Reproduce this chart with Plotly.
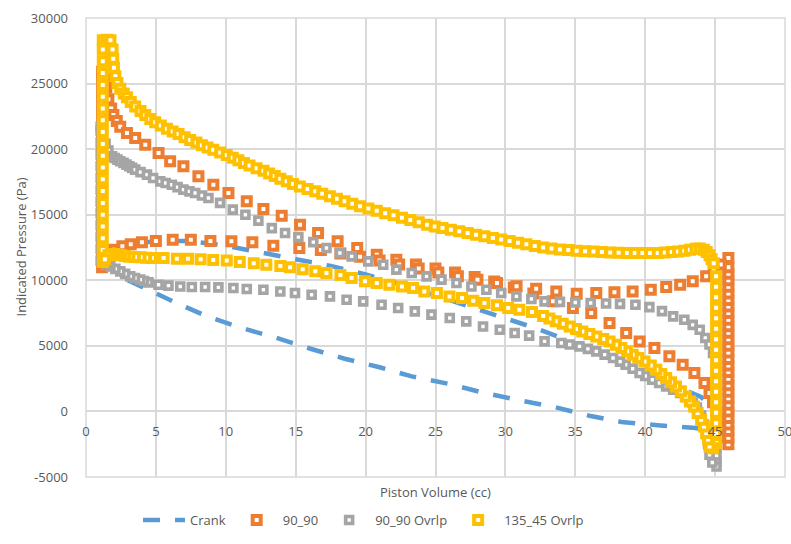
import plotly.graph_objects as go

# ---------------- data ----------------
# Crank (closed loop, dashed line)
crank_v = [1.5, 3.0, 5.0, 7.3, 9.7, 12.3, 15.0, 17.5, 20.0, 22.5, 25.0, 27.5, 30.0, 32.3,
           34.5, 36.5, 38.5, 40.5, 42.5, 44.0, 44.8, 45.0, 44.6, 43.4, 40.9, 38.3, 36.0,
           33.4, 30.8, 28.3, 25.9, 23.3, 21.0, 18.5, 16.0, 13.6, 11.1, 8.7, 6.4, 4.4, 2.8,
           1.8, 1.5]
crank_p = [12000, 12700, 13000, 13000, 12700, 12200, 11600, 11100, 10450, 9700, 8850, 8000,
           7150, 6300, 5400, 4500, 3600, 2700, 1800, 1100, 300, -800, -1400, -1250, -1050,
           -800, -330, 360, 890, 1460, 2110, 2670, 3370, 4020, 4800, 5620, 6370, 7230, 8300,
           9250, 10100, 10900, 12000]

# 90_90
o_v = [1.15, 1.15, 1.15, 1.15, 1.15, 1.15, 1.15, 1.15, 1.15, 1.15, 1.15, 1.15, 1.15, 1.15,
       1.15, 1.15, 1.15, 1.15,
       1.3, 1.45, 1.6, 1.8, 1.96, 2.2, 2.45, 2.93, 3.52, 4.24, 5.19, 6.02, 6.97, 8.04, 9.11,
       10.19, 11.5, 12.69, 14.0, 15.31, 16.6, 18.0, 19.4, 20.8, 22.2, 23.6, 25.0, 26.4, 27.8,
       29.2, 30.6, 32.0, 33.4, 34.83, 36.14, 37.45, 38.64, 39.6, 40.66, 41.73, 42.68, 43.52,
       44.24, 44.6, 44.85, 45.1, 45.3, 45.5, 45.75,
       45.95, 45.95, 45.95, 45.95, 45.95, 45.95, 45.95, 45.95, 45.95, 45.95, 45.95, 45.95,
       45.95, 45.95, 45.95, 45.95, 45.95, 45.95, 45.95, 45.95, 45.95, 45.95, 45.95, 45.95,
       45.95, 45.95, 45.95, 45.95, 45.95,
       45.4, 44.9, 44.36, 43.4, 42.5, 41.5, 40.4, 39.1, 37.8, 36.5, 35.1, 33.64, 32.2, 30.8,
       29.4, 28.0, 26.6, 25.2, 23.8, 22.4, 21.0, 19.6, 18.2, 16.8, 15.26, 13.4, 11.9, 10.4,
       8.9, 7.5, 6.2, 5.0, 4.0, 3.2, 2.6, 2.0, 1.6, 1.3]
o_p = [11000, 11900, 12800, 13700, 14600, 15500, 16400, 17300, 18200, 19100, 20000, 20900,
       21800, 22700, 23600, 24500, 25400, 25900,
       25600, 24700, 23800, 23100, 22600, 22150, 21700, 21240, 20850, 20340, 19710, 19070,
       18690, 17930, 17290, 16660, 16020, 15440, 14930, 14240, 13600, 12970, 12460, 11950,
       11570, 11200, 10900, 10600, 10250, 9900, 9450, 9000, 8400, 7890, 7510, 6740, 5980,
       5340, 4840, 4200, 3560, 2930, 2170, 1400, 700, 0, -700, -1300, -1900,
       -2500, -2000, -1500, -1000, -500, 0, 500, 1000, 1500, 2000, 2500, 3000, 3500, 4000,
       4500, 5000, 5500, 6000, 6500, 7000, 7500, 8000, 8500, 9000, 9500, 10000, 10500,
       11000, 11700,
       11200, 10700, 10300, 9920, 9660, 9490, 9280, 9150, 9080, 9030, 8980, 9150, 9350,
       9550, 9800, 10050, 10300, 10600, 10900, 11200, 11500, 11800, 12050, 12300, 12460,
       12640, 12900, 12970, 13000, 13100, 13100, 13000, 12900, 12750, 12600, 12330, 11900,
       11300]

# 90_90 Ovrlp
g_v = [1.05, 1.05, 1.05, 1.05, 1.05, 1.05, 1.05, 1.05, 1.05, 1.05, 1.05, 1.05, 1.05,
       1.2, 1.4, 1.6, 1.86, 2.05, 2.25, 2.45, 2.69, 2.9, 3.1, 3.3, 3.52, 3.9, 4.36, 4.8,
       5.31, 5.7, 6.14, 6.55, 6.97, 7.4, 7.81, 8.3, 8.76, 9.59,
       10.5, 11.4, 12.33, 13.29, 14.24, 15.19, 16.26, 17.2, 18.16, 19.0, 20.19, 21.26, 22.2,
       23.3, 24.36, 25.43, 26.5, 27.57, 28.64, 29.7, 30.79, 31.86, 32.8, 33.9, 35.0, 36.1,
       37.2, 38.2, 39.3, 40.3, 41.2, 42.0, 42.8, 43.4, 43.9, 44.3, 44.6, 44.85,
       45.1, 45.1, 45.1, 45.1, 45.1, 45.1, 45.1, 45.1, 45.1, 45.1, 45.1, 45.1, 45.1, 45.1,
       45.1, 44.8,
       44.6, 44.5, 44.4, 44.2, 44.0, 43.7, 43.4, 42.9, 42.5, 42.0, 41.5, 41.0, 40.5, 40.0,
       39.6, 39.1, 38.6, 38.2, 37.7, 37.1, 36.5, 35.9, 35.3, 34.6, 34.0, 32.8, 31.7, 30.66,
       29.6, 28.4, 27.2, 26.02, 24.71, 23.52, 22.33, 21.14, 19.83, 18.64, 17.45, 16.14,
       14.95, 13.9, 12.69, 11.5, 10.54, 9.47, 8.52, 7.57, 6.74, 5.9, 5.19, 4.47, 4.15, 3.88,
       3.5, 3.16, 2.8, 2.45, 2.1, 1.74, 1.5, 1.3]
g_p = [11500, 12400, 13300, 14200, 15100, 16000, 16900, 17800, 18700, 19600, 20500, 21400,
       21700,
       21200, 20400, 19900, 19450, 19330, 19200, 19080, 18950, 18820, 18700, 18570, 18440,
       18250, 18060, 17800, 17540, 17420, 17290, 17100, 16910, 16780, 16660, 16470, 16280,
       15900, 15390, 15000, 14550, 13980, 13600, 13290, 12910, 12460, 12080,
       11820, 11440, 11190, 10810, 10560, 10300, 10050, 9790, 9530, 9280, 9030, 8770, 8570,
       8390, 8350, 8310, 8270, 8230, 8200, 8140, 7950, 7650, 7250, 6990, 6600, 6230, 5600,
       5100, 4450,
       3800, 3200, 2600, 2000, 1400, 800, 200, -400, -1000, -1600, -2200, -2800, -3400,
       -3900, -4200, -3900,
       -3300, -2500, -1800, -1000, -300, 300, 640, 1100, 1400, 1650, 1910, 2170, 2420, 2700,
       2930, 3250, 3560, 3800, 4070, 4330, 4580, 4770, 4960, 5100, 5220, 5340, 5780, 5980,
       6230, 6480, 6870, 7120, 7380, 7630, 7890, 8140, 8390, 8520, 8770, 8900, 9030, 9150,
       9280, 9340, 9410, 9460, 9490, 9490, 9530, 9590, 9660, 9840, 9940, 10050, 10170,
       10300, 10490, 10680, 10870, 11060, 11280, 11500]

# 135_45 Ovrlp
y_v = [1.2, 1.2, 1.2, 1.2, 1.2, 1.2, 1.2, 1.2, 1.2, 1.2, 1.2, 1.2, 1.2, 1.2, 1.2, 1.2,
       1.2, 1.2, 1.2, 1.2,
       1.5, 1.75, 1.9, 1.95, 2.0, 2.1, 2.25, 2.45, 2.7, 2.93, 3.2, 3.52, 3.9, 4.24, 4.6,
       4.95, 5.35, 5.79, 6.2, 6.62, 7.05, 7.45, 7.9, 8.29, 8.7, 9.11, 9.6, 10.07, 10.5, 10.9,
       11.3, 11.7, 12.2, 12.7, 13.1, 13.5, 13.9, 14.36, 14.8, 15.3, 15.85, 16.4, 16.9, 17.45,
       17.95, 18.5, 19.05, 19.6, 20.2, 20.8, 21.4, 22.0, 22.6, 23.2, 23.8, 24.4, 24.95, 25.5,
       26.1, 26.7, 27.3, 27.9, 28.5, 29.1, 29.7, 30.3, 30.9, 31.5, 32.1, 32.7, 33.3, 33.9,
       34.5, 35.1, 35.7, 36.3, 36.9, 37.5, 38.1, 38.7, 39.25, 39.8, 40.35, 40.9, 41.4, 41.9,
       42.35, 42.8, 43.2, 43.6, 43.9, 44.2, 44.4, 44.6, 44.75, 44.9,
       45.07, 45.07, 45.07, 45.07, 45.07, 45.07, 45.07, 45.07, 45.07, 45.07, 45.07, 45.07,
       45.07, 45.07, 45.07, 45.07, 45.07, 44.85,
       44.6, 44.5, 44.36, 44.2, 44.0, 43.75, 43.5, 43.2, 42.9, 42.55, 42.2, 41.85, 41.5,
       41.15, 40.8, 40.4, 39.95, 39.5, 39.1, 38.7, 38.3, 37.9, 37.45, 37.0, 36.5, 36.0, 35.5,
       35.05, 34.6, 34.1, 33.6, 33.15, 32.7, 31.9, 31.0, 30.2, 29.4, 28.5, 27.7, 26.9, 26.0,
       25.1, 24.2, 23.4, 22.6, 21.7, 20.8, 19.95, 19.0, 18.2, 17.2, 16.4, 15.5, 14.6, 13.9,
       12.9, 12.0, 11.0, 10.07, 9.1, 8.2, 7.3, 6.5, 5.55, 4.71, 4.3, 3.9, 3.5, 3.1, 2.8, 2.5,
       2.25, 2.0, 1.8, 1.6, 1.35]
y_p = [11400, 12300, 13200, 14100, 15000, 15900, 16800, 17700, 18600, 19500, 20400, 21300,
       22200, 23100, 24000, 24900, 25800, 26700, 27600, 28300,
       28350, 28300, 27600, 26900, 26200, 25550, 25050, 24600, 24250, 23950, 23600, 23250,
       22900, 22600, 22300, 22050, 21800, 21550, 21350, 21150, 20900, 20700, 20500, 20300,
       20120, 19950, 19750, 19550, 19350, 19150, 18950, 18750, 18550, 18350, 18150, 17950,
       17750, 17550, 17350, 17160, 16970, 16780, 16590, 16400, 16210, 16020, 15830, 15640,
       15470, 15300, 15120, 14950, 14770, 14600, 14420, 14240, 14110, 13990, 13860, 13730,
       13600, 13480, 13350, 13230, 13110, 13000, 12870, 12750, 12620, 12500, 12420, 12350,
       12300, 12250, 12220, 12200, 12160, 12120, 12100, 12080, 12080, 12080, 12080, 12080,
       12110, 12150, 12200, 12250, 12320, 12400, 12420, 12330, 12150, 11900, 11600, 11300,
       10300, 9500, 8700, 7900, 7100, 6300, 5500, 4700, 3900, 3100, 2300, 1500, 700, -100,
       -900, -1700, -2400, -2800,
       -2670, -2150, -1650, -1150, -630, -120, 380, 760, 1140, 1530, 1910, 2230, 2550, 2860,
       3180, 3500, 3810, 4070, 4320, 4580, 4840, 5090, 5340, 5530, 5720, 5910, 6100, 6290,
       6480, 6680, 6870, 7080, 7280, 7580, 7760, 7890, 8090, 8270, 8440, 8650, 8770, 9030,
       9150, 9410, 9530, 9660, 9790, 9920, 10170, 10400, 10560, 10680, 10850, 11000, 11090,
       11190, 11290, 11400, 11500, 11550, 11600, 11650, 11650, 11700, 11700, 11720, 11750,
       11770, 11800, 11850, 11900, 11950, 12000, 11950, 11900, 11600]

x_ticks = [0, 5, 10, 15, 20, 25, 30, 35, 40, 45, 50]
y_ticks = [-5000, 0, 5000, 10000, 15000, 20000, 25000, 30000]

# ---------------- figure ----------------
FONT = "Open Sans"
TXT = "#595959"
GRID = "#D9D9D9"
PLOT_H = 544 - 18 - 67

fig = go.Figure()
fig.add_trace(go.Scatter(x=crank_v, y=crank_p, mode="lines", name="Crank",
                         line=dict(color="#5B9BD5", width=4.5, dash="17px,15px")))
fig.add_trace(go.Scatter(x=o_v, y=o_p, mode="markers", name="90_90",
                         marker=dict(symbol="square", size=8, color="white",
                                     line=dict(color="#ED7D31", width=4))))
fig.add_trace(go.Scatter(x=g_v, y=g_p, mode="markers", name="90_90 Ovrlp",
                         marker=dict(symbol="square", size=7, color="white",
                                     line=dict(color="#A5A5A5", width=3.6))))
fig.add_trace(go.Scatter(x=y_v, y=y_p, mode="markers", name="135_45 Ovrlp",
                         marker=dict(symbol="square", size=8, color="white",
                                     line=dict(color="#FFC000", width=4))))

fig.update_layout(
    width=791, height=544,
    margin=dict(l=86, r=6, t=18, b=67, autoexpand=False),
    paper_bgcolor="white", plot_bgcolor="white",
    font=dict(family=FONT, size=13, color=TXT),
    showlegend=True,
    legend=dict(orientation="h", x=(138 - 86) / 699, xanchor="left",
                y=-(520 - 477) / PLOT_H, yanchor="middle",
                font=dict(family=FONT, size=13, color=TXT), itemwidth=42),
    xaxis=dict(range=[0, 50], tickvals=x_ticks, ticktext=[str(t) for t in x_ticks],
               showgrid=True, gridcolor=GRID, gridwidth=1.5, zeroline=False,
               showline=False, anchor="free", position=5000 / 35000,
               tickfont=dict(family=FONT, size=13, color=TXT), ticks="",
               ticklabelstandoff=11, ticklabeloverflow="allow"),
    yaxis=dict(range=[-5000, 30000], tickvals=y_ticks, ticktext=[str(t) for t in y_ticks],
               showgrid=True, gridcolor=GRID, gridwidth=1.5, zeroline=False,
               showline=False, tickfont=dict(family=FONT, size=13, color=TXT),
               ticks="", ticklabelstandoff=17, ticklabeloverflow="allow"),
    shapes=[dict(type="rect", xref="paper", yref="paper", x0=0, y0=0, x1=1, y1=1,
                 line=dict(color=GRID, width=1.5), layer="below")],
    annotations=[
        dict(text="Piston Volume (cc)", xref="paper", yref="paper", x=0.5,
             y=-(492 - 477) / PLOT_H, xanchor="center", yanchor="middle", showarrow=False,
             font=dict(family=FONT, size=13, color=TXT)),
        dict(text="Indicated Pressure (Pa)", xref="paper", yref="paper",
             x=-(86 - 20) / 699, y=0.5, xanchor="center", yanchor="middle", textangle=-90,
             showarrow=False, font=dict(family=FONT, size=13, color=TXT)),
    ],
)

fig.write_html("out.html", config={"displayModeBar": False},
               post_script="document.body.style.margin='0px';")
